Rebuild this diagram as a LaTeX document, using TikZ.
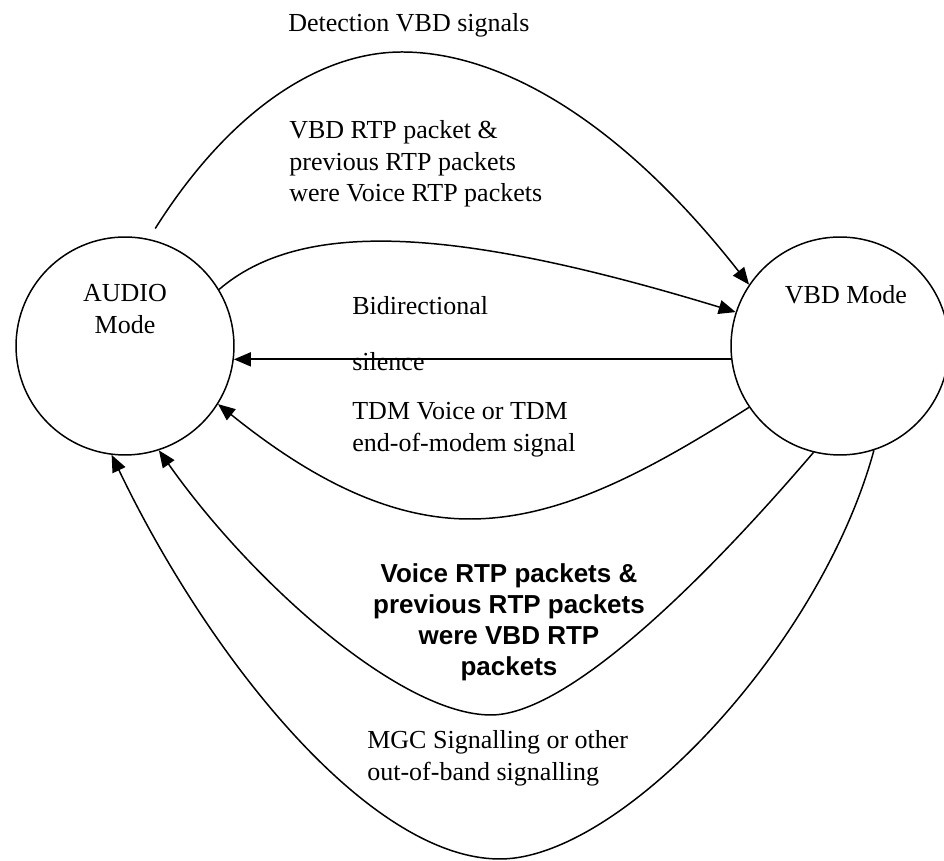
\documentclass[tikz,border=0pt]{standalone}
\usepackage{fontspec}
\setmainfont{Liberation Serif}
\setsansfont{Liberation Sans}
\usetikzlibrary{arrows.meta,positioning,calc}

\begin{document}
\begin{tikzpicture}[x=0.02cm,y=0.02cm,
  modestate/.style={draw,circle,minimum size=4.36cm,inner sep=0pt,line width=0.85pt},
  trans/.style={line width=0.85pt,-{Triangle[length=0.34cm,width=0.28cm]}},
  lbl/.style={font=\fontsize{14.8}{18}\selectfont,align=left,anchor=west,inner sep=0pt},
  lblbold/.style={font=\fontsize{14.8}{17.6}\selectfont\sffamily\bfseries,align=center,
    inner sep=0pt}
]
  \useasboundingbox (0,0) rectangle (944,861);

  % States
  \node[modestate] (audio) at (125,515) {};
  \node[modestate] (vbd) at (840,515) {};
  \node[lbl,anchor=center,align=center] (audiotxt) at (125,552) {AUDIO\\Mode};
  \node[lbl,anchor=center] (vbdtxt) at (846,566) {VBD Mode};

  % AUDIO -> VBD
  \draw[trans] ([yshift=0.24cm]audio.74) .. controls (230,751) and (320,809) .. (402,809)
    .. controls (500,809) and (620,741) .. (vbd.146);
  \draw[trans] (audio.31) .. controls (300,641) and (450,636) .. (vbd.162);

  % VBD -> AUDIO
  \draw[trans,line width=1.1pt] (vbd.187) -- (audio.353);
  \draw[trans] (vbd.214) .. controls (650,391) and (560,341) .. (467,342)
    .. controls (380,343) and (300,391) .. (audio.328);
  \draw[trans] (vbd.256) .. controls (683,256) and (560,146) .. (491,146)
    .. controls (400,146) and (250,281) .. (audio.288);
  \draw[trans] (vbd.288) .. controls (820,213) and (620,2) .. (500,2)
    .. controls (370,2) and (210,201) .. (audio.263);

  % Labels
  \node[lbl] (detect) at (288,836) {Detection VBD signals};
  \node[lbl] (vbdpkt) at (289,697) {VBD RTP packet \&\\previous RTP packets\\were Voice RTP packets};
  \node[lbl] (bidir) at (352,555) {Bidirectional};
  \node[lbl] (silence) at (352,499) {silence};
  \node[lbl] (tdm) at (352,431) {TDM Voice or TDM\\end-of-modem signal};
  \node[lblbold] (voicepkt) at (509,239) {Voice RTP packets \&\\previous RTP packets\\were VBD RTP\\packets};
  \node[lbl] (mgc) at (367,103) {MGC Signalling or other\\out-of-band signalling};
\end{tikzpicture}
\end{document}
